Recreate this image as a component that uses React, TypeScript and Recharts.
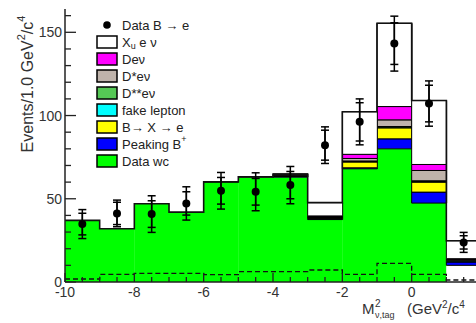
import { ComposedChart, Bar, Cell, Line, Scatter, ErrorBar, XAxis, YAxis, Legend } from 'recharts';

const FONT = '"Liberation Sans", Arial, sans-serif';

// lower edges of the 1 GeV^2/c^4 bins
const binLow = [-10, -9, -8, -7, -6, -5, -4, -3, -2, -1, 0, 1];

// stacked MC / control-sample components, bottom to top
const dataWc = [37, 32, 47, 42, 60, 63, 63, 37.5, 68, 80, 47.4, 10];
const peakingB = [0, 0, 0, 0, 0, 0, 0.4, 0.6, 0.6, 6, 6.6, 2];
const bToXe = [0, 0, 0, 0, 0, 0, 0.4, 0.5, 3.5, 6.6, 6, 0.5];
const fakeLepton = [0, 0, 0, 0, 0, 0, 0.2, 0.2, 0.3, 0.4, 0.4, 0.3];
const dssEnu = [0, 0, 0, 0, 0, 0, 0.2, 0.2, 0.3, 0.4, 0.4, 0.3];
const dsEnu = [0, 0, 0, 0, 0, 0, 0.3, 0.4, 1.5, 4, 6.2, 0.5];
const dEnu = [0, 0, 0, 0, 0, 0, 0.2, 0.3, 2.5, 8, 3.6, 0.4];
const xuEnu = [0, 0, 0, 0, 0.2, 0.2, 0.1, 8, 25.6, 50, 38.4, 10.8];

// dashed histogram near the bottom
const bkgDashed = [1.8, 4.6, 5.2, 5.2, 4.4, 6.2, 6.2, 7.2, 4.6, 11.2, 4.6, 1.2];

// data B -> e with stat (inner) and total (outer) errors
const dataCounts = [34.8, 41.2, 40.8, 47.2, 54.8, 54.2, 58.2, 82.2, 96.2, 143.2, 107.2, 23.8];
const statErr = [6.5, 6.7, 8, 7, 8, 8, 8.2, 9, 11.5, 12.5, 11, 4];
const totErr = [8.7, 8, 11, 10, 11, 11.4, 11.2, 11, 13.8, 16.5, 13.6, 6];

const COLORS = {
  wc: '#00ff00',
  peak: '#0000ff',
  bxe: '#ffff00',
  fake: '#00ffff',
  dss: '#55c855',
  ds: '#bfb3ab',
  d: '#ff00ff',
  xu: '#ffffff',
};

const bins = binLow.map((lo, i) => ({
  bin: String(lo),
  wc: dataWc[i],
  peak: peakingB[i],
  bxe: bToXe[i],
  fake: fakeLepton[i],
  dss: dssEnu[i],
  ds: dsEnu[i],
  d: dEnu[i],
  xu: xuEnu[i],
}));

const totals = binLow.map(
  (_, i) => dataWc[i] + peakingB[i] + bToXe[i] + fakeLepton[i] + dssEnu[i] + dsEnu[i] + dEnu[i] + xuEnu[i]
);

// step lines need the upper edge of the last bin too
const last = binLow.length - 1;
const xMax = binLow[last] + 1;
const steps = [...binLow, xMax].map((x, i) => ({
  x,
  total: totals[Math.min(i, last)],
  bkg: bkgDashed[Math.min(i, last)],
}));

const points = binLow.map((lo, i) => ({ x: lo + 0.5, y: dataCounts[i], stat: statErr[i], tot: totErr[i] }));

const xTicks = Array.from({ length: 25 }, (_, i) => -10 + i * 0.5);
const yTicks = Array.from({ length: 17 }, (_, i) => i * 10);

const stackLegend = [
  { key: 'xu', label: <>X<tspan dy={4} fontSize={9}>u</tspan><tspan dy={-4}> e ν</tspan></> },
  { key: 'd', label: 'Deν' },
  { key: 'ds', label: 'D*eν' },
  { key: 'dss', label: 'D**eν' },
  { key: 'fake', label: 'fake lepton' },
  { key: 'bxe', label: 'B→ X → e' },
  { key: 'peak', label: <>Peaking B<tspan dy={-5} fontSize={9}>+</tspan></> },
  { key: 'wc', label: 'Data wc' },
];

function HistLegend() {
  return (
    <svg width={120} height={160} style={{ display: 'block' }} fontFamily={FONT} fontSize={13} fill="#222">
      <circle cx={17} cy={10} r={3.8} fill="#000" />
      <text x={32} y={10} dominantBaseline="central">Data B → e</text>
      {stackLegend.map((it, k) => {
        const cy = 27 + 17 * k;
        return (
          <g key={it.key}>
            <rect x={7} y={cy - 6} width={20} height={12} fill={(COLORS as any)[it.key]} stroke="#000" strokeWidth={1.5} />
            <text x={32} y={cy} dominantBaseline="central">{it.label}</text>
          </g>
        );
      })}
    </svg>
  );
}

// inward tick marks, labels only on the major ticks (none on the frame edge)
function XTick({ x, y, payload, dir, labels }: any) {
  const v = payload.value;
  const major = Math.abs(v % 2) < 1e-6;
  const len = major ? 9 : 5;
  return (
    <g>
      <line x1={x} x2={x} y1={y} y2={y + dir * len} stroke="#222" strokeWidth={1.3} />
      {labels && major && v < xMax && (
        <text x={x} y={y + 15} textAnchor="middle" fontSize={14} fontFamily={FONT} fill="#333">
          {String(v)}
        </text>
      )}
    </g>
  );
}

function YTick({ x, y, payload, dir, labels }: any) {
  const v = payload.value;
  const major = v % 50 === 0;
  const len = major ? 11 : 6;
  return (
    <g>
      <line x1={x} x2={x + dir * len} y1={y} y2={y} stroke="#222" strokeWidth={1.3} />
      {labels && major && (
        <text x={x - 3} y={y} textAnchor="end" dominantBaseline="central" fontSize={14} fontFamily={FONT} fill="#333">
          {v}
        </text>
      )}
    </g>
  );
}

function XTitle({ viewBox }: any) {
  const x0 = viewBox.x + 297;
  const y0 = viewBox.y + 32;
  return (
    <g fill="#333" fontFamily={FONT}>
      <text x={x0} y={y0} fontSize={15}>M</text>
      <text x={x0 + 13} y={y0 - 7} fontSize={10}>2</text>
      <text x={x0 + 13} y={y0 + 4} fontSize={9}>ν,tag</text>
      <text x={x0 + 45} y={y0} fontSize={15}>
        (GeV<tspan dy={-6} fontSize={10}>2</tspan>
        <tspan dy={6}>/c</tspan>
        <tspan dy={-6} fontSize={10}>4</tspan>
      </text>
    </g>
  );
}

function YTitle({ viewBox }: any) {
  const cx = viewBox.x + 27;
  const cy = viewBox.y + 75;
  return (
    <text
      transform={`rotate(-90 ${cx} ${cy})`}
      x={cx}
      y={cy}
      textAnchor="middle"
      dominantBaseline="central"
      fontSize={16}
      fontFamily={FONT}
      fill="#333"
    >
      Events/1.0 GeV<tspan dy={-6} fontSize={11}>2</tspan>
      <tspan dy={6}>/c</tspan>
      <tspan dy={-6} fontSize={11}>4</tspan>
    </text>
  );
}

const Dot = (p: any) => <circle cx={p.cx} cy={p.cy} r={4} fill="#000" />;

export default function App() {
  const segment = (key: string) => (
    <Bar
      key={key}
      xAxisId="cat"
      dataKey={key}
      stackId="h"
      fill={(COLORS as any)[key]}
      stroke="#000"
      strokeWidth={1}
      isAnimationActive={false}
    />
  );

  return (
    <div style={{ width: 476, height: 323, overflow: 'hidden', position: 'relative', background: '#fff' }}>
      <style>{'body{margin:0}'}</style>
      <ComposedChart
        width={482}
        height={323}
        data={bins}
        margin={{ top: 9, right: 1, bottom: 0, left: 0 }}
        barCategoryGap={0}
        barGap={0}
        style={{ fontFamily: FONT }}
      >
        <XAxis
          xAxisId="num"
          dataKey="x"
          type="number"
          domain={[-10, xMax]}
          allowDataOverflow
          ticks={xTicks}
          interval={0}
          height={41}
          tickSize={0}
          tickMargin={0}
          tickLine={false}
          axisLine={{ stroke: '#222', strokeWidth: 1.5 }}
          tick={(p: any) => <XTick {...p} dir={-1} labels />}
          label={(p: any) => <XTitle viewBox={p.viewBox} />}
        />
        <XAxis xAxisId="cat" dataKey="bin" type="category" height={0} hide />
        <XAxis
          xAxisId="top"
          orientation="top"
          type="number"
          domain={[-10, xMax]}
          allowDataOverflow
          ticks={xTicks}
          interval={0}
          height={0}
          tickSize={0}
          tickMargin={0}
          tickLine={false}
          axisLine={{ stroke: '#222', strokeWidth: 1.5 }}
          tick={(p: any) => <XTick {...p} dir={1} />}
        />
        <YAxis
          type="number"
          domain={[0, 164]}
          allowDataOverflow
          ticks={yTicks}
          interval={0}
          width={65}
          tickSize={0}
          tickMargin={0}
          tickLine={false}
          axisLine={{ stroke: '#222', strokeWidth: 1.5 }}
          tick={(p: any) => <YTick {...p} dir={1} labels />}
          label={(p: any) => <YTitle viewBox={p.viewBox} />}
        />
        <YAxis
          yAxisId="right"
          orientation="right"
          type="number"
          domain={[0, 164]}
          allowDataOverflow
          ticks={yTicks}
          interval={0}
          width={0}
          tickSize={0}
          tickMargin={0}
          tickLine={false}
          axisLine={{ stroke: '#222', strokeWidth: 1.5 }}
          tick={(p: any) => <YTick {...p} dir={-1} />}
        />

        <Bar xAxisId="cat" dataKey="wc" stackId="h" fill={COLORS.wc} isAnimationActive={false}>
          {/* wc subtraction leaves the last bin unfilled */}
          {bins.map((_, i) => (
            <Cell key={i} fill={i === last ? '#ffffff' : COLORS.wc} />
          ))}
        </Bar>
        {['peak', 'bxe', 'fake', 'dss', 'ds', 'd', 'xu'].map(segment)}

        <Line
          xAxisId="num"
          data={steps}
          dataKey="total"
          type="stepAfter"
          stroke="#111"
          strokeWidth={1.6}
          dot={false}
          isAnimationActive={false}
        />
        <Line
          xAxisId="num"
          data={steps}
          dataKey="bkg"
          type="stepAfter"
          stroke="#111"
          strokeWidth={1.3}
          strokeDasharray="5 3"
          dot={false}
          isAnimationActive={false}
        />
        <Scatter xAxisId="num" data={points} dataKey="y" shape={Dot} isAnimationActive={false}>
          <ErrorBar dataKey="tot" direction="y" width={4} stroke="#000" strokeWidth={1.5} />
          <ErrorBar dataKey="stat" direction="y" width={4} stroke="#000" strokeWidth={1.5} />
        </Scatter>

        <Legend
          layout="vertical"
          align="center"
          verticalAlign="middle"
          content={() => <HistLegend />}
          wrapperStyle={{ position: 'absolute', left: 90, top: 15, width: 120, height: 160 }}
        />
      </ComposedChart>
    </div>
  );
}
